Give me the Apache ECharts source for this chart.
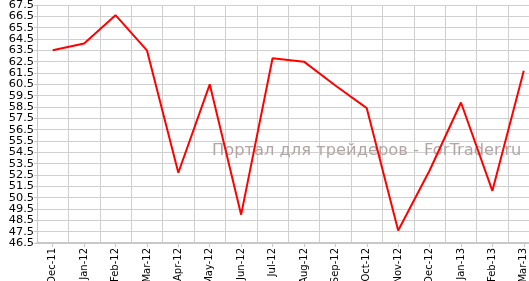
<!DOCTYPE html>
<html><head><meta charset="utf-8">
<script src="https://cdn.jsdelivr.net/npm/echarts@6/dist/echarts.min.js"></script>
<style>html,body{margin:0;padding:0;background:#fff}#c{width:529px;height:281px}</style>
</head><body><div id="c"></div>
<script>
const categories = ["Dec-11","Jan-12","Feb-12","Mar-12","Apr-12","May-12","Jun-12","Jul-12","Aug-12","Sep-12","Oct-12","Nov-12","Dec-12","Jan-13","Feb-13","Mar-13"];
const values = [63.5, 64.1, 66.6, 63.5, 52.7, 60.5, 49.0, 62.8, 62.5, 60.4, 58.4, 47.6, 52.9, 58.9, 51.1, 61.7];
const watermark = "Портал для трейдеров - ForTrader.ru";

const chart = echarts.init(document.getElementById('c'), null, {renderer: 'canvas'});
chart.setOption({
  animation: false,
  grid: {left: 37, top: 5, width: 502.5, height: 238, containLabel: false, outerBoundsMode: 'none'},
  graphic: [{
    type: 'text', x: 212, y: 151, z: 1,
    style: {text: watermark, font: '16.3px "DejaVu Sans", Verdana, sans-serif', fill: '#b3a5a5', verticalAlign: 'middle'}
  }],
  xAxis: {
    type: 'category', data: categories, boundaryGap: true,
    axisLine: {show: true, lineStyle: {color: '#c8c8c8', width: 2}},
    axisTick: {show: true, alignWithLabel: true, length: 4, lineStyle: {color: '#c8c8c8'}},
    splitLine: {show: true, interval: 0, lineStyle: {color: '#cfcfcf', width: 1}},
    axisLabel: {rotate: 90, interval: 0, fontSize: 10, color: '#000', fontFamily: '"DejaVu Sans", Verdana, sans-serif', margin: 5}
  },
  yAxis: {
    type: 'value', min: 46.5, max: 67.5, interval: 1,
    axisLine: {show: true, lineStyle: {color: '#c8c8c8', width: 1}},
    axisTick: {show: true, length: 3, lineStyle: {color: '#c8c8c8'}},
    splitLine: {show: true, lineStyle: {color: '#cfcfcf', width: 1}},
    axisLabel: {fontSize: 11.3, color: '#000', margin: 3,
      fontFamily: '"DejaVu Sans", Verdana, sans-serif', formatter: v => v.toFixed(1)}
  },
  series: [{
    type: 'line', data: values, symbol: 'none', z: 5,
    lineStyle: {color: '#ff0000', width: 2}
  }]
});
</script></body></html>
